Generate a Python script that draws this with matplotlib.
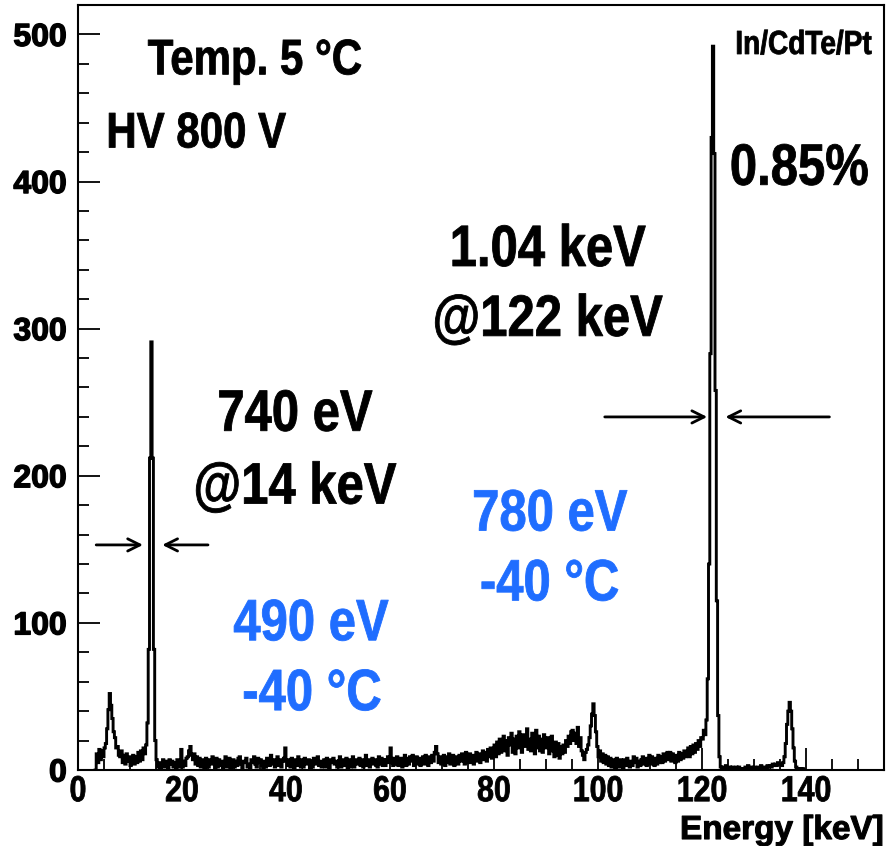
import numpy as np
import matplotlib
matplotlib.use("Agg")
import matplotlib.pyplot as plt
from matplotlib.patheffects import AbstractPathEffect
from matplotlib.transforms import Affine2D
from matplotlib.ticker import MultipleLocator

# spectrum: counts per 0.25 keV bin, one row per keV starting at 3 keV
e_start = 3.0
bin_width = 0.25
counts = [
    0, 0, 11, 5,        # 3
    14, 7, 13, 9,       # 4
    15, 18, 28, 41,     # 5
    52, 44, 35, 26,     # 6
    22, 15, 16, 10,     # 7
    9, 13, 5, 10,       # 8
    4, 11, 6, 9,        # 9
    3, 8, 10, 4,        # 10
    9, 5, 12, 6,        # 11
    13, 7, 15, 11,      # 12
    17, 32, 82, 212,    # 13
    291, 212, 82, 20,   # 14
    7, 2, 5, 1,         # 15
    4, 7, 2, 6,         # 16
    3, 1, 7, 4,         # 17
    6, 2, 5, 1,         # 18
    7, 3, 2, 14,        # 19
    2, 6, 3, 8,         # 20
    9, 13, 16, 10,      # 21
    7, 11, 4, 9,        # 22
    3, 8, 2, 7,         # 23
    6, 1, 8, 3,         # 24
    2, 7, 4, 9,         # 25
    5, 1, 8, 2,         # 26
    7, 3, 6, 1,         # 27
    4, 9, 2, 6,         # 28
    8, 1, 5, 7,         # 29
    2, 6, 3, 8,         # 30
    9, 4, 1, 6,         # 31
    5, 8, 2, 4,         # 32
    1, 7, 5, 9,         # 33
    4, 2, 8, 5,         # 34
    7, 3, 1, 6,         # 35
    2, 8, 5, 3,         # 36
    10, 4, 7, 2,        # 37
    5, 9, 3, 7,         # 38
    2, 6, 8, 15,        # 39
    6, 3, 7, 2,         # 40
    8, 5, 1, 7,         # 41
    3, 9, 5, 2,         # 42
    7, 2, 8, 4,         # 43
    5, 7, 1, 6,         # 44
    2, 8, 4, 7,         # 45
    9, 3, 6, 2,         # 46
    5, 7, 2, 8,         # 47
    3, 1, 7, 5,         # 48
    8, 4, 6, 2,         # 49
    5, 9, 2, 7,         # 50
    3, 6, 8, 1,         # 51
    7, 2, 5, 9,         # 52
    2, 7, 4, 6,         # 53
    8, 3, 7, 2,         # 54
    5, 10, 3, 7,        # 55
    2, 6, 8, 4,         # 56
    7, 3, 2, 9,         # 57
    4, 8, 3, 7,         # 58
    3, 7, 9, 5,         # 59
    15, 5, 3, 8,        # 60
    4, 9, 3, 7,         # 61
    8, 2, 7, 10,        # 62
    3, 8, 4, 9,         # 63
    6, 10, 3, 8,        # 64
    9, 4, 8, 3,         # 65
    5, 9, 4, 10,        # 66
    8, 3, 9, 5,         # 67
    10, 6, 12, 16,      # 68
    11, 5, 9, 4,        # 69
    8, 10, 3, 9,        # 70
    5, 11, 4, 8,        # 71
    10, 3, 9, 5,        # 72
    4, 10, 6, 11,       # 73
    9, 4, 12, 5,        # 74
    7, 11, 5, 10,       # 75
    4, 9, 12, 6,        # 76
    11, 5, 10, 13,      # 77
    7, 12, 6, 14,       # 78
    9, 15, 8, 13,       # 79
    17, 9, 19, 11,      # 80
    21, 12, 18, 23,     # 81
    13, 20, 10, 22,     # 82
    17, 25, 12, 21,     # 83
    11, 23, 15, 26,     # 84
    20, 12, 24, 16,     # 85
    22, 28, 14, 21,     # 86
    13, 25, 18, 11,     # 87
    27, 15, 23, 13,     # 88
    21, 12, 24, 16,     # 89
    15, 22, 11, 20,     # 90
    23, 13, 9, 19,      # 91
    10, 18, 8, 16,      # 92
    11, 17, 12, 20,     # 93
    16, 23, 18, 26,     # 94
    27, 20, 25, 18,     # 95
    29, 16, 22, 13,     # 96
    10, 7, 12, 14,      # 97
    17, 22, 30, 38,     # 98
    45, 37, 26, 16,     # 99
    9, 13, 6, 11,       # 100
    5, 10, 4, 9,        # 101
    3, 8, 2, 7,         # 102
    6, 1, 8, 4,         # 103
    2, 7, 5, 1,         # 104
    7, 3, 8, 4,         # 105
    2, 6, 3, 9,         # 106
    5, 8, 2, 6,         # 107
    3, 7, 9, 4,         # 108
    8, 3, 6, 10,        # 109
    4, 9, 5, 3,         # 110
    8, 4, 10, 5,        # 111
    9, 5, 11, 6,        # 112
    10, 12, 7, 12,      # 113
    6, 11, 7, 5,        # 114
    10, 6, 12, 7,       # 115
    11, 8, 13, 9,       # 116
    12, 15, 9, 16,      # 117
    11, 17, 12, 18,     # 118
    14, 20, 16, 22,     # 119
    21, 27, 24, 34,     # 120
    62, 140, 283, 430,  # 121
    492, 419, 258, 115, # 122
    37, 9, 2, 1,        # 123
    2, 1, 3, 0,         # 124
    1, 2, 0, 2,         # 125
    1, 0, 2, 1,         # 126
    2, 1, 1, 0,         # 127
    1, 2, 1, 3,         # 128
    0, 1, 2, 1,         # 129
    2, 1, 0, 2,         # 130
    1, 3, 1, 2,         # 131
    2, 1, 3, 2,         # 132
    3, 2, 4, 3,         # 133
    4, 3, 5, 4,         # 134
    4, 3, 5, 9,         # 135
    18, 31, 40, 46,     # 136
    40, 28, 15, 6,      # 137
    2, 1, 0, 1,         # 138
    0, 1, 0, 0,         # 139
]
edges = e_start + bin_width * np.arange(len(counts) + 1)

# FWHM arrows (start x, end x, height)
arrows = [
    (3.5, 12.5, 153), (25.0, 16.2, 153),
    (101.3, 121.0, 240), (144.5, 124.5, 240),
]

black_labels = [
    ("Temp. 5 °C", 34.0, 481.7, 36),
    ("HV 800 V", 22.7, 432.0, 36),
    ("In/CdTe/Pt", 139.5, 492.5, 24),
    ("0.85%", 138.7, 408.0, 42),
    ("1.04 keV", 90.3, 352.8, 42),
    ("@122 keV", 90.3, 305.3, 42),
    ("740 eV", 41.7, 240.8, 42),
    ("@14 keV", 41.7, 191.3, 42),
]
blue_labels = [
    ("780 eV", 90.7, 173.0, 42),
    ("-40 °C", 90.7, 125.5, 42),
    ("490 eV", 44.8, 98.4, 42),
    ("-40 °C", 45.0, 50.9, 42),
]


class Narrow(AbstractPathEffect):
    """Squeeze glyphs horizontally about the string centre, with a thin outline."""

    def __init__(self, factor=0.84, stroke=0.6):
        super().__init__()
        self.factor = factor
        self.stroke = stroke

    def draw_path(self, renderer, gc, tpath, affine, rgbFace=None):
        ext = tpath.get_extents(affine)
        cx = 0.5 * (ext.x0 + ext.x1)
        squeeze = Affine2D().translate(-cx, 0).scale(self.factor, 1).translate(cx, 0)
        gc0 = renderer.new_gc()
        gc0.copy_properties(gc)
        gc0.set_foreground(rgbFace)
        gc0.set_linewidth(self.stroke)
        renderer.draw_path(gc0, tpath, affine + squeeze, rgbFace)
        gc0.restore()


plt.rcParams["font.family"] = ["Liberation Sans", "DejaVu Sans"]
plt.rcParams["font.weight"] = "bold"
narrow = [Narrow(0.84)]

fig = plt.figure(figsize=(8.88, 8.46), dpi=100)
ax = fig.add_axes([78 / 888, 1 - 770 / 846, (884 - 78) / 888, (770 - 5) / 846])

ax.stairs(counts, edges, color="black", lw=2.1)

ax.set_xlim(0, 155)
ax.set_ylim(0, 520)
ax.xaxis.set_major_locator(MultipleLocator(20))
ax.xaxis.set_minor_locator(MultipleLocator(5))
ax.yaxis.set_major_locator(MultipleLocator(100))
ax.yaxis.set_minor_locator(MultipleLocator(20))
ax.tick_params(which="major", direction="in", length=16, width=1.3)
ax.tick_params(which="minor", direction="in", length=8, width=1.3)
ax.tick_params(axis="x", labelsize=26, pad=3)
ax.tick_params(axis="y", labelsize=23, pad=8)
for lab in ax.get_xticklabels():
    lab.set_path_effects(narrow)
for lab in ax.get_yticklabels():
    lab.set_path_effects([Narrow(1.0, 1.0)])
for sp in ax.spines.values():
    sp.set_linewidth(1.5)

ax.set_xlabel("Energy [keV]", fontsize=24, fontweight="bold", va="baseline",
              ha="right", path_effects=[Narrow(1.0, 0.8)])
ax.xaxis.set_label_coords(1.0, -(839 - 770) / 765)

for x0, x1, y in arrows:
    ax.annotate("", xy=(x1, y), xytext=(x0, y),
                arrowprops=dict(arrowstyle="->", lw=2, color="black",
                                mutation_scale=22, shrinkA=0, shrinkB=0))

for txt, x, y, size in black_labels:
    ax.text(x, y, txt, fontsize=size, fontweight="bold", color="black",
            ha="center", va="center", path_effects=narrow)
for txt, x, y, size in blue_labels:
    ax.text(x, y, txt, fontsize=size, fontweight="bold", color="#1f6dff",
            ha="center", va="center", path_effects=narrow)

fig.savefig("out.png", dpi=100)
